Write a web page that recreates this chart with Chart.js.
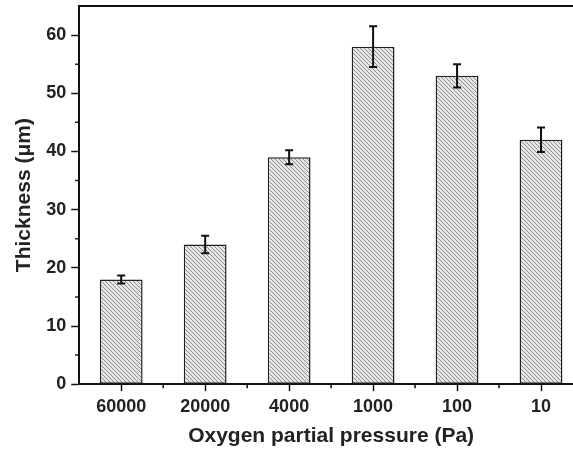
<!DOCTYPE html>
<html>
<head>
<meta charset="utf-8">
<script src="https://cdn.jsdelivr.net/npm/chart.js@4/dist/chart.umd.min.js"></script>
<style>
  html, body { margin: 0; padding: 0; background: #fff; overflow: hidden; }
  #wrap { width: 600px; height: 450px; position: relative; }
</style>
</head>
<body>
<div id="wrap"><canvas id="grafico"></canvas></div>
<script>
// datos
const presiones = ['60000', '20000', '4000', '1000', '100', '10'];
const espesores = [18, 24, 39, 58, 53, 42];
const errores   = [0.7, 1.5, 1.2, 3.5, 2.0, 2.1];
const yTicksMenores = [5, 15, 25, 35, 45, 55];

const FUENTE = '"Liberation Sans", Arial, sans-serif';

// patron rayado de las barras
function crearRayado() {
  const s = 4;
  const c = document.createElement('canvas');
  c.width = s; c.height = s;
  const g = c.getContext('2d');
  g.fillStyle = '#e6e6e6';
  g.fillRect(0, 0, s, s);
  g.strokeStyle = '#8e8e8e';
  g.lineWidth = 1;
  g.beginPath();
  for (const k of [-s, 0, s]) {
    g.moveTo(k, 0);
    g.lineTo(k + s, s);
  }
  g.stroke();
  return g.createPattern(c, 'repeat');
}

// barras de error, marco superior y ticks menores
const extras = {
  id: 'extras',
  afterDatasetsDraw(chart) {
    const { ctx, scales: { y } } = chart;
    const meta = chart.getDatasetMeta(0);
    ctx.save();
    ctx.strokeStyle = '#111';
    ctx.lineWidth = 2;
    meta.data.forEach((bar, i) => {
      const yt = y.getPixelForValue(espesores[i] + errores[i]);
      const yb = y.getPixelForValue(espesores[i] - errores[i]);
      ctx.beginPath();
      ctx.moveTo(bar.x, yt); ctx.lineTo(bar.x, yb);
      ctx.moveTo(bar.x - 4, yt); ctx.lineTo(bar.x + 4, yt);
      ctx.moveTo(bar.x - 4, yb); ctx.lineTo(bar.x + 4, yb);
      ctx.stroke();
    });
    ctx.restore();
  },
  afterDraw(chart) {
    const { ctx, chartArea: a, scales: { x, y } } = chart;
    ctx.save();
    ctx.strokeStyle = '#111';
    ctx.lineWidth = 2;
    ctx.beginPath();
    ctx.moveTo(a.left - 1, a.top); ctx.lineTo(a.right, a.top);
    ctx.stroke();
    ctx.lineWidth = 1.5;
    ctx.beginPath();
    yTicksMenores.forEach((v) => {
      const py = y.getPixelForValue(v);
      ctx.moveTo(a.left - 4, py); ctx.lineTo(a.left, py);
    });
    for (let i = 0; i < presiones.length; i++) {
      const px = (x.getPixelForValue(i) + x.getPixelForValue(i + 1)) / 2;
      ctx.moveTo(px, a.bottom); ctx.lineTo(px, a.bottom + 4);
    }
    ctx.stroke();
    ctx.restore();
  },
};

const ctx = document.getElementById('grafico').getContext('2d');
new Chart(ctx, {
  type: 'bar',
  data: {
    labels: presiones,
    datasets: [
      {
        label: 'Thickness',
        data: espesores,
        backgroundColor: crearRayado(),
        borderColor: '#222',
        borderWidth: 1.5,
        borderSkipped: false,
        categoryPercentage: 1,
        barPercentage: 0.51,
      },
    ],
  },
  options: {
    responsive: true,
    maintainAspectRatio: false,
    animation: false,
    layout: { padding: { left: 12, right: 17, top: 6, bottom: 1 } },
    plugins: {
      legend: { display: false },
      tooltip: { enabled: false },
    },
    scales: {
      x: {
        grid: { display: true, drawOnChartArea: false, offset: false, tickLength: 7, tickWidth: 1.5, tickColor: '#111' },
        border: { color: '#111', width: 2 },
        ticks: { color: '#222', padding: 5, font: { family: FUENTE, size: 18, weight: 'bold' } },
        title: {
          display: true,
          text: 'Oxygen partial pressure (Pa)',
          color: '#222',
          padding: { top: 1, bottom: 0 },
          font: { family: FUENTE, size: 21, weight: 'bold' },
        },
      },
      y: {
        min: 0,
        max: 65,
        afterFit: (scale) => { scale.paddingTop = 0; scale.paddingBottom = 0; },
        grid: {
          drawOnChartArea: false,
          tickLength: 8,
          tickWidth: 1.5,
          tickColor: (c) => (c.tick && c.tick.value > 60 ? 'rgba(0,0,0,0)' : '#111'),
        },
        border: { color: '#111', width: 2 },
        ticks: {
          stepSize: 10,
          padding: 5,
          color: '#222',
          font: { family: FUENTE, size: 18, weight: 'bold' },
          callback: (v) => (v > 60 ? '' : v),
        },
        title: {
          display: true,
          text: 'Thickness (μm)',
          color: '#222',
          padding: { top: 0, bottom: 4 },
          font: { family: FUENTE, size: 21, weight: 'bold' },
        },
      },
    },
  },
  plugins: [extras],
});
</script>
</body>
</html>
